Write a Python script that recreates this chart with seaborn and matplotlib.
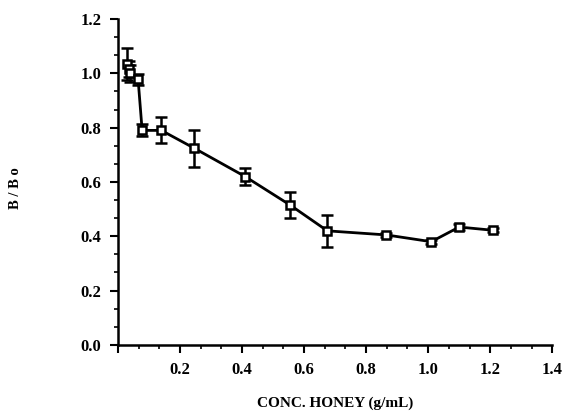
import matplotlib
matplotlib.use("Agg")
import matplotlib.pyplot as plt
import seaborn as sns
import pandas as pd
from matplotlib.ticker import AutoMinorLocator, FixedLocator

conc = [0.030, 0.035, 0.040, 0.065, 0.078, 0.140, 0.245, 0.410, 0.555, 0.675, 0.865, 1.010, 1.100, 1.210]
ratio = [1.035, 1.015, 1.000, 0.978, 0.790, 0.790, 0.725, 0.620, 0.515, 0.420, 0.405, 0.380, 0.434, 0.422]
err = [0.060, 0.030, 0.030, 0.020, 0.022, 0.048, 0.068, 0.032, 0.048, 0.059, 0.008, 0.008, 0.010, 0.008]
xticks = [0.2, 0.4, 0.6, 0.8, 1.0, 1.2, 1.4]
yticks = [0.0, 0.2, 0.4, 0.6, 0.8, 1.0, 1.2]

sns.set_theme(style="white")
plt.rcParams['font.family'] = ['Liberation Serif', 'DejaVu Serif']
plt.rcParams['font.weight'] = 'bold'

df = pd.DataFrame({"conc": conc, "ratio": ratio})

fig = plt.figure(figsize=(5.67, 4.15), dpi=100)
ax = fig.add_axes([0.208, 0.169, 0.766, 0.785])

ax.errorbar(conc, ratio, yerr=err, fmt='none', ecolor='black', elinewidth=1.8,
            capsize=4, capthick=1.8, zorder=2)
sns.lineplot(data=df, x="conc", y="ratio", ax=ax, color='black', linewidth=2,
             marker='s', markersize=6, markerfacecolor='white',
             markeredgecolor='black', markeredgewidth=1.8, zorder=3)

ax.set_xlim(0, 1.4)
ax.set_ylim(0, 1.2)
ax.xaxis.set_major_locator(FixedLocator([0.0] + xticks))
ax.set_xticklabels([''] + [f"{v:.1f}" for v in xticks])
ax.yaxis.set_major_locator(FixedLocator(yticks))
ax.set_yticklabels([f"{v:.1f}" for v in yticks])
ax.xaxis.set_minor_locator(AutoMinorLocator(3))
ax.yaxis.set_minor_locator(AutoMinorLocator(3))

for s in ['top', 'right']:
    ax.spines[s].set_visible(False)
for s in ['left', 'bottom']:
    ax.spines[s].set_color('black')
    ax.spines[s].set_linewidth(1.8)

ax.tick_params(axis='both', which='major', direction='out', length=6, width=1.5,
               color='black', labelsize=12, pad=6, bottom=True, left=True)
ax.tick_params(axis='both', which='minor', direction='out', length=3, width=1.2,
               color='black', bottom=True, left=True)
for lab in ax.get_xticklabels() + ax.get_yticklabels():
    lab.set_fontweight('bold')
    lab.set_color('black')

ax.set_xlabel("CONC. HONEY (g/mL)", fontsize=11, fontweight='bold', color='black')
ax.xaxis.set_label_coords(0.5, -0.158)
ax.set_ylabel("B / B o", fontsize=10.5, fontweight='bold', color='black')
ax.yaxis.set_label_coords(-0.222, 0.48)
ax.grid(False)

fig.savefig("out.png", dpi=100)
